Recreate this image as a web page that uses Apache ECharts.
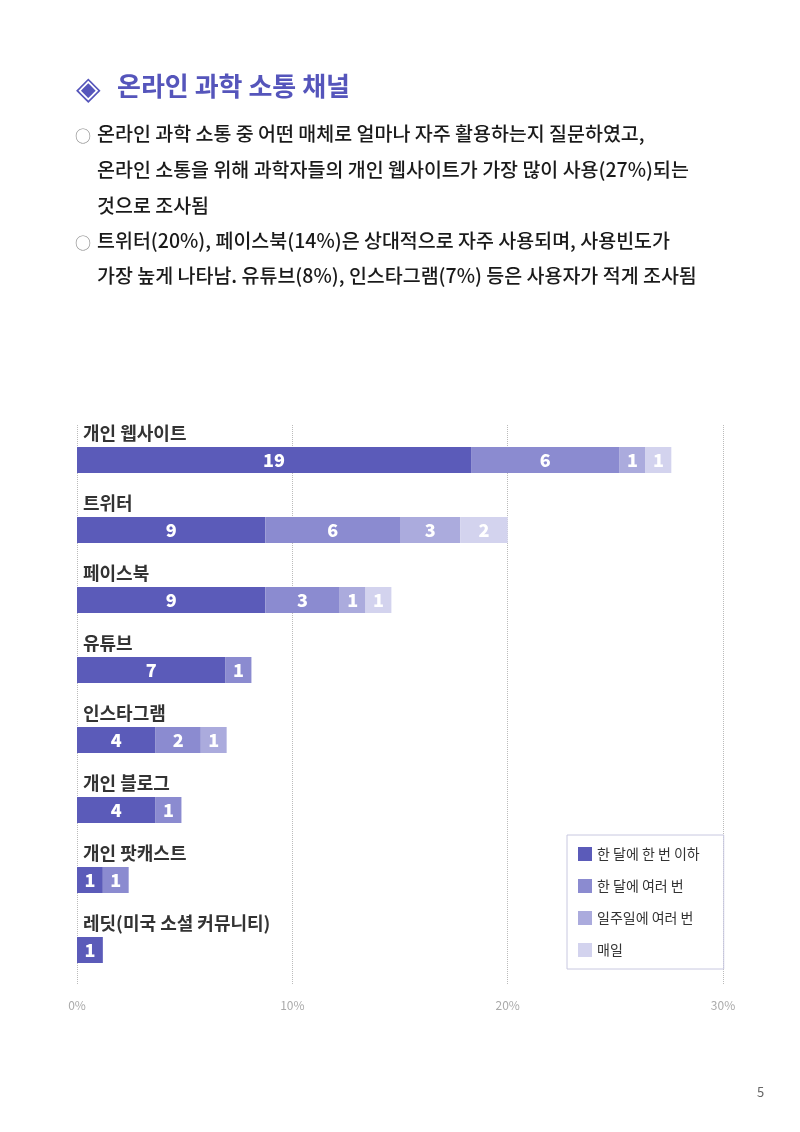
<!DOCTYPE html>
<html><head><meta charset="utf-8">
<script src="https://cdn.jsdelivr.net/npm/echarts@6/dist/echarts.min.js"></script>
<style>html,body{margin:0;padding:0;background:#fff}#c{width:800px;height:1132px}</style>
</head><body><div id="c"></div>
<script>
const categories = ['개인 웹사이트','트위터','페이스북','유튜브','인스타그램','개인 블로그','개인 팟캐스트','레딧(미국 소셜 커뮤니티)'];
const seriesNames = ['한 달에 한 번 이하','한 달에 여러 번','일주일에 여러 번','매일'];
// bar widths (%) as drawn
const monthlyOnce  = [18.3, 8.75, 8.75, 6.9, 3.65, 3.65, 1.2, 1.2];
const monthlyMulti = [6.9, 6.25, 3.45, 1.2, 2.1, 1.2, 1.2, null];
const weeklyMulti  = [1.2, 2.8, 1.2, null, 1.2, null, null, null];
const daily        = [1.2, 2.2, 1.2, null, null, null, null, null];
// printed labels
const labMonthlyOnce  = [19, 9, 9, 7, 4, 4, 1, 1];
const labMonthlyMulti = [6, 6, 3, 1, 2, 1, 1, null];
const labWeeklyMulti  = [1, 3, 1, null, 1, null, null, null];
const labDaily        = [1, 2, 1, null, null, null, null, null];
const xTicks = [0, 10, 20, 30];

const colors = ['#5b5bb9','#8b8bd0','#ababdd','#d3d3ee'];
const FONT = '"Noto Sans CJK KR", "Noto Sans", sans-serif';
const values = [monthlyOnce, monthlyMulti, weeklyMulti, daily];
const labs = [labMonthlyOnce, labMonthlyMulti, labWeeklyMulti, labDaily];

const chart = echarts.init(document.getElementById('c'));
const bodyLines = [
  ['○', '온라인 과학 소통 중 어떤 매체로 얼마나 자주 활용하는지 질문하였고,'],
  ['', '온라인 소통을 위해 과학자들의 개인 웹사이트가 가장 많이 사용(27%)되는'],
  ['', '것으로 조사됨'],
  ['○', '트위터(20%), 페이스북(14%)은 상대적으로 자주 사용되며, 사용빈도가'],
  ['', '가장 높게 나타남. 유튜브(8%), 인스타그램(7%) 등은 사용자가 적게 조사됨']
];
const lineY = [135, 171, 207, 242, 277];
const graphics = [
  {type:'text', left:76, top:71, style:{text:'◈', font:'32px ' + FONT, fill:'#5555bb'}},
  {type:'text', left:117, top:73, style:{text:'온라인 과학 소통 채널', font:'bold 26px ' + FONT, fill:'#5555bb'}},
  {type:'text', left:757, top:1086, style:{text:'5', font:'13px ' + FONT, fill:'#666'}}
];
bodyLines.forEach((l, i) => {
  if (l[0]) graphics.push({type:'text', left:75, top:lineY[i]-7, style:{text:l[0], font:'16px ' + FONT, fill:'#888'}});
  graphics.push({type:'text', left:97, top:lineY[i]-11, style:{text:l[1], font:'500 19.5px ' + FONT, fill:'#1a1a1a'}});
});

chart.setOption({
  animation:false,
  graphic: graphics,
  grid:{left:77, right:77, top:425, bottom:147},
  legend:{
    orient:'vertical', left:567, top:835,
    padding:[12, 24, 12, 11], itemGap:18, itemWidth:14, itemHeight:14,
    borderColor:'#c8c8e0', borderWidth:1, icon:'rect',
    textStyle:{fontFamily:FONT, fontSize:14, color:'#333'},
    data: seriesNames
  },
  xAxis:{
    type:'value', min:0, max:30, interval:10,
    axisLine:{show:false}, axisTick:{show:false},
    axisLabel:{formatter:v => xTicks.includes(v) ? v + '%' : '', color:'#aaa', fontSize:12, fontFamily:FONT, margin:14},
    splitLine:{show:true, lineStyle:{type:'dotted', color:'#bbb', width:1}}
  },
  yAxis:{
    type:'category', data:categories, inverse:true,
    axisLine:{show:false}, axisTick:{show:false},
    axisLabel:{inside:true, margin:6, verticalAlign:'middle',
      formatter: v => '{c|' + v + '}',
      rich:{c:{padding:[0,0,54,0], color:'#333', fontSize:18, fontWeight:'bold', fontFamily:FONT}}}
  },
  series: seriesNames.map((n, si) => ({
    name:n, type:'bar', stack:'t', barWidth:26,
    itemStyle:{color:colors[si]},
    label:{show:true, position:'inside', color:'#fff', fontSize:18, fontWeight:900, fontFamily:FONT,
      formatter:p => labs[si][p.dataIndex] == null ? '' : String(labs[si][p.dataIndex])},
    data: values[si]
  }))
});
</script></body></html>
